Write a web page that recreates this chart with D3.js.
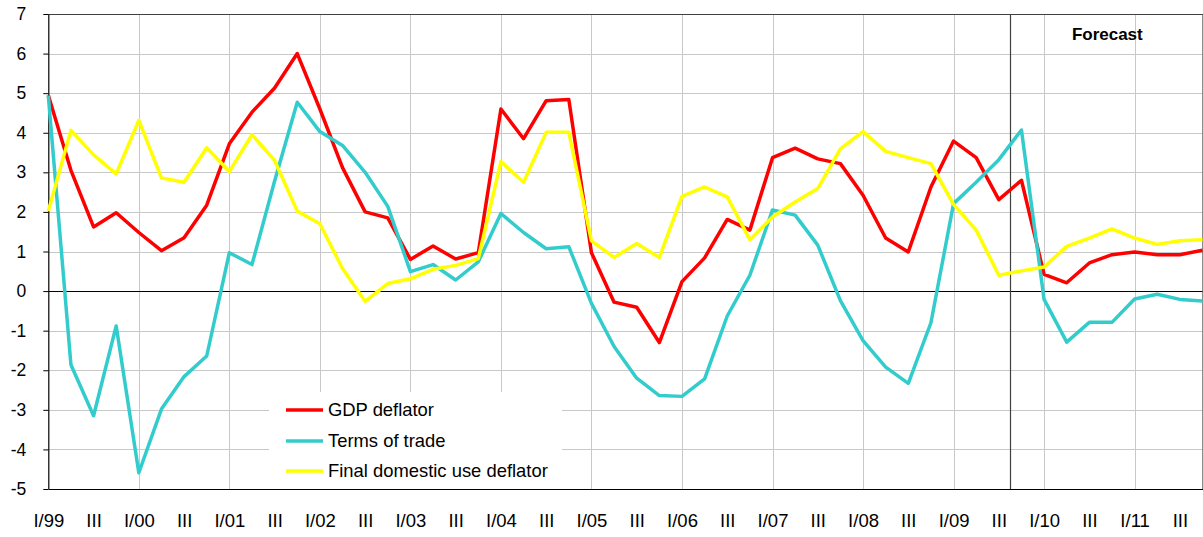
<!DOCTYPE html>
<html>
<head>
<meta charset="utf-8">
<script src="https://cdn.jsdelivr.net/npm/d3@7"></script>
<style>
  html, body { margin: 0; padding: 0; background: #fff; }
  svg { display: block; font-family: "Liberation Sans", Arial, sans-serif; }
</style>
</head>
<body>
<svg id="chart" width="1203" height="537"></svg>
<script>
// ---- data ----
const quarters = ["I/99","II","III","IV","I/00","II","III","IV","I/01","II","III","IV",
  "I/02","II","III","IV","I/03","II","III","IV","I/04","II","III","IV",
  "I/05","II","III","IV","I/06","II","III","IV","I/07","II","III","IV",
  "I/08","II","III","IV","I/09","II","III","IV","I/10","II","III","IV",
  "I/11","II","III","IV"];
const gdpDeflator = [4.95, 3.05, 1.62, 1.98, 1.48, 1.02, 1.35, 2.17, 3.72, 4.52, 5.13, 6.0,
  4.6, 3.12, 2.0, 1.85, 0.8, 1.14, 0.81, 0.97, 4.6, 3.85, 4.81, 4.84,
  0.97, -0.28, -0.41, -1.3, 0.24, 0.84, 1.81, 1.54, 3.37, 3.61, 3.34, 3.22,
  2.42, 1.34, 0.99, 2.63, 3.79, 3.37, 2.31, 2.8, 0.42, 0.21, 0.71, 0.92,
  0.99, 0.92, 0.92, 1.03];
const termsOfTrade = [4.94, -1.86, -3.15, -0.88, -4.59, -2.98, -2.16, -1.64, 0.97, 0.67, 2.78, 4.77,
  4.03, 3.68, 3.0, 2.14, 0.49, 0.67, 0.28, 0.74, 1.96, 1.48, 1.07, 1.12,
  -0.31, -1.40, -2.2, -2.64, -2.66, -2.22, -0.63, 0.40, 2.05, 1.92, 1.16, -0.24,
  -1.25, -1.92, -2.33, -0.80, 2.21, 2.75, 3.32, 4.07, -0.21, -1.29, -0.79, -0.79,
  -0.20, -0.08, -0.21, -0.25];
const finalDomesticUseDeflator = [2.02, 4.06, 3.44, 2.96, 4.31, 2.86, 2.75, 3.62, 3.02, 3.95, 3.30, 2.02,
  1.70, 0.57, -0.26, 0.19, 0.31, 0.55, 0.65, 0.82, 3.27, 2.75, 4.01, 4.01,
  1.27, 0.85, 1.20, 0.85, 2.39, 2.63, 2.38, 1.30, 1.87, 2.25, 2.59, 3.59,
  4.03, 3.53, 3.37, 3.22, 2.19, 1.54, 0.40, 0.51, 0.61, 1.13, 1.34, 1.57,
  1.34, 1.18, 1.27, 1.30];
const seriesNames = ["GDP deflator", "Terms of trade", "Final domestic use deflator"];
const seriesColors = ["#FF0000", "#33CCCC", "#FFFF00"];
const yTicks = [-5,-4,-3,-2,-1,0,1,2,3,4,5,6,7];
const forecastStart = 42.5; // between III/09 and IV/09
const forecastLabel = "Forecast";

// ---- layout ----
const pLeft = 48.3, pRight = 1202.5, pTop = 14, pBottom = 489;
const svg = d3.select("#chart");
const x = d3.scaleLinear().domain([0, quarters.length - 1]).range([pLeft, pRight]);
const y = d3.scaleLinear().domain([-5, 7]).range([pBottom, pTop]);

// gridlines
const grid = svg.append("g");
grid.selectAll("line.h").data(yTicks).enter().append("line")
  .attr("x1", pLeft).attr("x2", pRight)
  .attr("y1", d => Math.round(y(d)) + 0.5).attr("y2", d => Math.round(y(d)) + 0.5)
  .attr("stroke", "#c8c8c8").attr("stroke-width", 1);
const yearIdx = d3.range(4, quarters.length, 4);
grid.selectAll("line.v").data(yearIdx).enter().append("line")
  .attr("x1", d => Math.round(x(d)) + 0.5).attr("x2", d => Math.round(x(d)) + 0.5)
  .attr("y1", pTop).attr("y2", pBottom)
  .attr("stroke", "#c8c8c8").attr("stroke-width", 1);

// plot border (top/right)
svg.append("path")
  .attr("d", `M${pLeft},${pTop + 0.5}H${pRight + 0.5}V${pBottom}`)
  .attr("fill", "none").attr("stroke", "#404040").attr("stroke-width", 1.2);

// legend background
const lg = { x0: 269, x1: 562, y0: 392, y1: pBottom };
svg.append("rect").attr("x", lg.x0).attr("y", lg.y0)
  .attr("width", lg.x1 - lg.x0).attr("height", lg.y1 - lg.y0).attr("fill", "#fff");

// y axis
const yAxis = d3.axisLeft(y).tickValues(yTicks).tickSize(5).tickSizeOuter(0).tickPadding(17)
  .tickFormat(d => String(d));
const yg = svg.append("g").attr("transform", `translate(${pLeft},0)`).call(yAxis);
yg.select(".domain").attr("stroke", "#000").attr("stroke-width", 1.2);
yg.selectAll(".tick line").attr("stroke", "#000");
yg.selectAll(".tick text").attr("font-size", 17.5).attr("fill", "#000")
  .attr("font-family", "Liberation Sans, Arial, sans-serif");

// x axis
const xTickIdx = d3.range(0, quarters.length, 2);
const xAxis = d3.axisBottom(x).tickValues(xTickIdx).tickSize(0).tickSizeOuter(0).tickPadding(25)
  .tickFormat(i => quarters[i]);
const xg = svg.append("g").attr("transform", `translate(0,${pBottom})`).call(xAxis);
xg.select(".domain").attr("stroke", "#000").attr("stroke-width", 1.2);
xg.selectAll(".tick text").attr("font-size", 18.5).attr("fill", "#000")
  .attr("font-family", "Liberation Sans, Arial, sans-serif");

// zero line
svg.append("line").attr("x1", pLeft).attr("x2", pRight)
  .attr("y1", Math.round(y(0)) + 0.5).attr("y2", Math.round(y(0)) + 0.5)
  .attr("stroke", "#000").attr("stroke-width", 1);

// forecast divider
svg.append("line").attr("x1", Math.round(x(forecastStart)) + 0.5).attr("x2", Math.round(x(forecastStart)) + 0.5)
  .attr("y1", pTop).attr("y2", pBottom).attr("stroke", "#404040").attr("stroke-width", 1.2);
svg.append("text").attr("x", (x(forecastStart) + pRight) / 2 + 1).attr("y", 40)
  .attr("text-anchor", "middle").attr("font-size", 17).attr("font-weight", "bold")
  .text(forecastLabel);

// lines
const allSeries = [gdpDeflator, termsOfTrade, finalDomesticUseDeflator];
const line = d3.line().x((d, i) => x(i)).y(d => y(d));
[0, 1, 2].forEach(k => {
  svg.append("path").datum(allSeries[k])
    .attr("d", line).attr("fill", "none")
    .attr("stroke", seriesColors[k]).attr("stroke-width", 3.5)
    .attr("stroke-linejoin", "round");
});

// legend entries
const legendRows = [410, 441, 471];
seriesNames.forEach((name, k) => {
  svg.append("line").attr("x1", 286).attr("x2", 323)
    .attr("y1", legendRows[k]).attr("y2", legendRows[k])
    .attr("stroke", seriesColors[k]).attr("stroke-width", 3.5);
  svg.append("text").attr("x", 328).attr("y", legendRows[k]).attr("dy", "0.35em")
    .attr("font-size", 18.4).attr("fill", "#000").text(name);
});
</script>
</body>
</html>
